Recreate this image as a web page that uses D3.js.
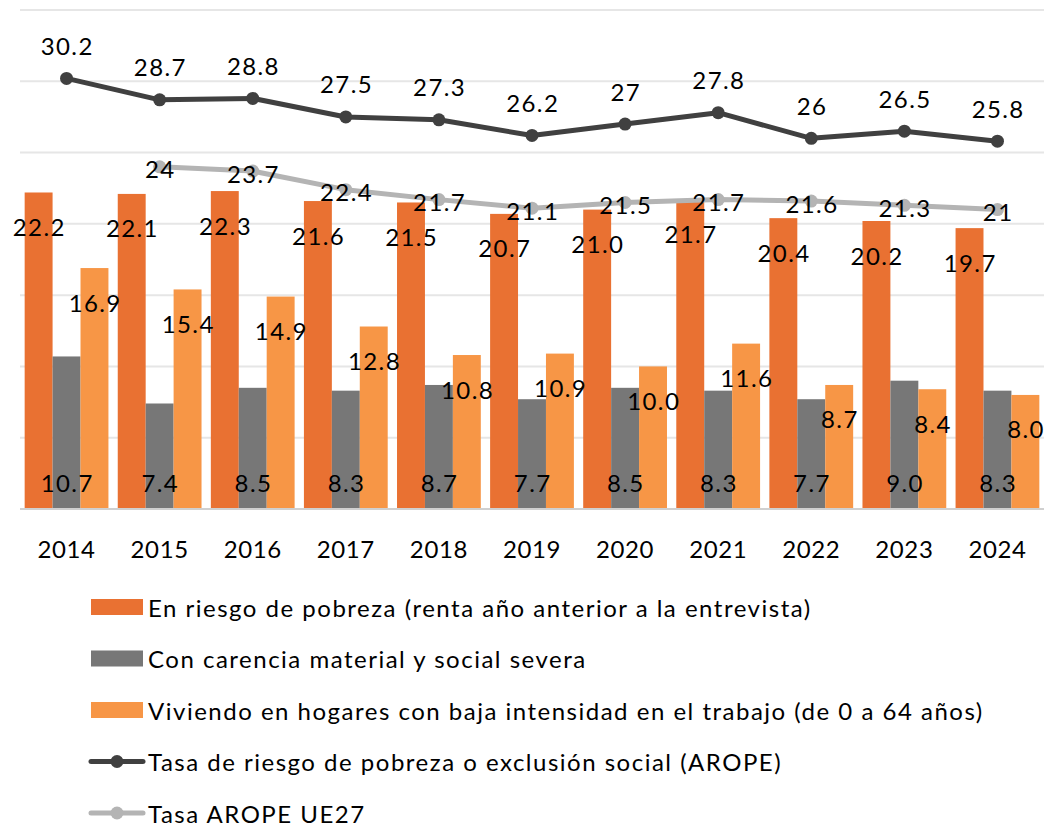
<!DOCTYPE html>
<html>
<head>
<meta charset="utf-8">
<script src="https://cdn.jsdelivr.net/npm/d3@7"></script>
<style>
  body { margin: 0; background: #fff; }
  text { font-family: Lato, "Open Sans", sans-serif; fill: #000; }
</style>
</head>
<body>
<script>
const width = 1046
const height = 825

/* Data */
const years = ["2014", "2015", "2016", "2017", "2018", "2019", "2020", "2021", "2022", "2023", "2024"]
const pobreza = [22.2, 22.1, 22.3, 21.6, 21.5, 20.7, 21.0, 21.7, 20.4, 20.2, 19.7]
const carencia = [10.7, 7.4, 8.5, 8.3, 8.7, 7.7, 8.5, 8.3, 7.7, 9.0, 8.3]
const bajaIntensidad = [16.9, 15.4, 14.9, 12.8, 10.8, 10.9, 10.0, 11.6, 8.7, 8.4, 8.0]
const arope = [30.2, 28.7, 28.8, 27.5, 27.3, 26.2, 27, 27.8, 26, 26.5, 25.8]
const aropeUE = [null, 24, 23.7, 22.4, 21.7, 21.1, 21.5, 21.7, 21.6, 21.3, 21]
const yTicks = [0, 5, 10, 15, 20, 25, 30, 35]

const barSeries = [
  {name: "En riesgo de pobreza (renta año anterior a la entrevista)", values: pobreza, color: "#E97132", label: "end"},
  {name: "Con carencia material y social severa", values: carencia, color: "#777777", label: "base"},
  {name: "Viviendo en hogares con baja intensidad en el trabajo (de 0 a 64 años)", values: bajaIntensidad, color: "#F79646", label: "end"}
]
const lineSeries = [
  {name: "Tasa de riesgo de pobreza o exclusión social (AROPE)", values: arope, color: "#404040", label: "above"},
  {name: "Tasa AROPE UE27", values: aropeUE, color: "#B4B4B4", label: "center"}
]

const svg = d3.select("body")
  .append("svg")
  .attr("width", width)
  .attr("height", height)

/* Scales */
const x = d3.scaleBand()
  .domain(years)
  .range([20, 1044])
  .paddingInner(0.1)
  .paddingOuter(0.05)

const xSub = d3.scaleBand()
  .domain(d3.range(barSeries.length))
  .range([0, x.bandwidth()])

const y = d3.scaleLinear()
  .domain([0, 35])
  .range([509, 10])

/* Gridlines */
svg.append("g")
  .selectAll("line")
  .data(yTicks.slice(1))
  .join("line")
  .attr("x1", 20)
  .attr("x2", 1044)
  .attr("y1", d => y(d))
  .attr("y2", d => y(d))
  .attr("stroke", "#E6E6E6")
  .attr("stroke-width", 2)

/* Bars */
barSeries.forEach((s, i) => {
  svg.append("g")
    .selectAll("rect")
    .data(s.values)
    .join("rect")
    .attr("x", (d, j) => x(years[j]) + xSub(i))
    .attr("width", xSub.bandwidth())
    .attr("y", d => y(d))
    .attr("height", d => y(0) - y(d))
    .attr("fill", s.color)
})

/* Baseline and x axis */
svg.append("line")
  .attr("x1", 20)
  .attr("x2", 1044)
  .attr("y1", y(0))
  .attr("y2", y(0))
  .attr("stroke", "#D0D0D0")
  .attr("stroke-width", 2)

const xAxis = svg.append("g")
  .attr("transform", `translate(0,${y(0)})`)
  .call(d3.axisBottom(x).tickSize(0).tickPadding(32))
xAxis.select(".domain").remove()
xAxis.selectAll("text")
  .attr("font-size", 24)
  .attr("letter-spacing", 0.6)
  .style("font-family", "Lato, sans-serif")

/* Lines */
lineSeries.forEach(s => {
  const pts = s.values.map((v, j) => ({year: years[j], v})).filter(p => p.v != null)
  const g = svg.append("g")
  g.append("path")
    .datum(pts)
    .attr("fill", "none")
    .attr("stroke", s.color)
    .attr("stroke-width", 5)
    .attr("stroke-linejoin", "round")
    .attr("d", d3.line().x(p => x(p.year) + x.bandwidth() / 2).y(p => y(p.v)))
  g.selectAll("circle")
    .data(pts)
    .join("circle")
    .attr("cx", p => x(p.year) + x.bandwidth() / 2)
    .attr("cy", p => y(p.v))
    .attr("r", 6.5)
    .attr("fill", s.color)
})

/* Bar labels */
barSeries.forEach((s, i) => {
  svg.append("g")
    .selectAll("text")
    .data(s.values)
    .join("text")
    .attr("x", (d, j) => x(years[j]) + xSub(i) + xSub.bandwidth() / 2 + 0.7)
    .attr("y", d => s.label === "base" ? y(0) - 27 : y(d) + 34)
    .attr("text-anchor", "middle")
    .attr("dominant-baseline", "central")
    .attr("font-size", 24)
    .attr("letter-spacing", 1.4)
    .text(d => d.toFixed(1))
})

/* Line labels */
lineSeries.forEach(s => {
  const pts = s.values.map((v, j) => ({year: years[j], v})).filter(p => p.v != null)
  svg.append("g")
    .selectAll("text")
    .data(pts)
    .join("text")
    .attr("x", p => x(p.year) + x.bandwidth() / 2 + 0.7)
    .attr("y", p => s.label === "above" ? y(p.v) - 33 : y(p.v) + 2)
    .attr("text-anchor", "middle")
    .attr("dominant-baseline", "central")
    .attr("font-size", 24)
    .attr("letter-spacing", 1.4)
    .text(p => String(p.v))
})

/* Legend */
const legend = svg.append("g")
const items = barSeries.map(s => ({...s, type: "bar"})).concat(lineSeries.map(s => ({...s, type: "line"})))
items.forEach((s, i) => {
  const cy = 607 + i * 51.5
  const row = legend.append("g")
  if (s.type === "bar") {
    row.append("rect")
      .attr("x", 91).attr("y", cy - 8)
      .attr("width", 52).attr("height", 16)
      .attr("fill", s.color)
  } else {
    row.append("line")
      .attr("x1", 91).attr("x2", 143)
      .attr("y1", cy).attr("y2", cy)
      .attr("stroke", s.color).attr("stroke-width", 5)
      .attr("stroke-linecap", "round")
    row.append("circle")
      .attr("cx", 117).attr("cy", cy).attr("r", 6.5)
      .attr("fill", s.color)
  }
  row.append("text")
    .attr("x", 148)
    .attr("y", cy)
    .attr("dominant-baseline", "central")
    .attr("font-size", 24)
    .attr("letter-spacing", 1.5)
    .text(s.name)
})
</script>
</body>
</html>
